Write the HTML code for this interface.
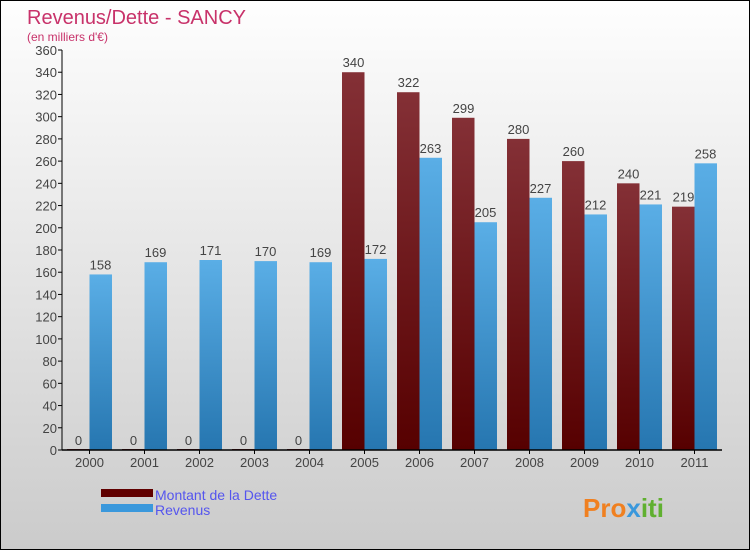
<!DOCTYPE html>
<html><head><meta charset="utf-8"><style>
body{margin:0;width:750px;height:550px;overflow:hidden;font-family:"Liberation Sans",sans-serif}
#root{position:relative;width:748px;height:548px;border:1px solid #000;background:linear-gradient(#fefefe,#cbcbcb)}
</style></head><body>
<div id="root">
<svg id="svg" width="748" height="548" style="position:absolute;left:0;top:0">
<defs>
<linearGradient id="gd" x1="0" y1="0" x2="0" y2="1"><stop offset="0" stop-color="#843036"/><stop offset="1" stop-color="#560000"/></linearGradient>
<linearGradient id="gr" x1="0" y1="0" x2="0" y2="1"><stop offset="0" stop-color="#5aaee6"/><stop offset="1" stop-color="#2676b0"/></linearGradient>
</defs>
<text x="26" y="23" font-size="20" fill="#c8326a">Revenus/Dette - SANCY</text>
<text x="26" y="40" font-size="12" fill="#c8326a">(en milliers d'€)</text>
<g id="plot"></g>
<rect x="100" y="488" width="52" height="8" fill="#600000"/>
<rect x="100" y="503" width="52" height="8" fill="#3a98dc"/>
<text x="154" y="499" font-size="14" fill="#5555ee">Montant de la Dette</text>
<text x="154" y="514" font-size="14" fill="#5555ee">Revenus</text>
<text x="582" y="516" font-size="26" font-weight="bold" fill="#f08020">Pro<tspan fill="#3a98dc">x</tspan><tspan fill="#60b030">iti</tspan></text>
</svg>
</div>
<script>
const years=["2000","2001","2002","2003","2004","2005","2006","2007","2008","2009","2010","2011"];
const dette=[0,0,0,0,0,340,322,299,280,260,240,219];
const revenus=[158,169,171,170,169,172,263,205,227,212,221,258];
const yTicks=[0,20,40,60,80,100,120,140,160,180,200,220,240,260,280,300,320,340,360];
const X0=61,SLOT=55,Y0=449,YMAX=360,H=400;
const ys=v=>Y0-v/YMAX*H;
const g=document.getElementById('plot');
const NS="http://www.w3.org/2000/svg";
function el(t,a){const e=document.createElementNS(NS,t);for(const k in a)e.setAttribute(k,a[k]);g.appendChild(e);return e;}
yTicks.forEach(v=>{
 const l=el('line',{x1:X0-4,x2:X0,y1:ys(v),y2:ys(v),stroke:'#000'});
 
 
 const t=el('text',{x:X0-5,y:ys(v)+5,'font-size':13,fill:'#444','text-anchor':'end'});
 t.textContent=v;
 
 
});
years.forEach((y,i)=>{
 const c=X0+SLOT*(i+0.5);
 const hd=Math.max(1,dette[i]/YMAX*H);
 const b1=el('rect',{x:c-22.5,y:Y0-hd,width:22.5,height:hd,fill:'url(#gd)'});
 
 
 const hr=revenus[i]/YMAX*H;
 const b2=el('rect',{x:c,y:Y0-hr,width:22.5,height:hr,fill:'url(#gr)'});
 
 
 const t1=el('text',{x:c-11,y:ys(dette[i])-5,'font-size':13,fill:'#444','text-anchor':'middle'});
 t1.textContent=dette[i];
 
 
 const t2=el('text',{x:c+11,y:ys(revenus[i])-5,'font-size':13,fill:'#444','text-anchor':'middle'});
 t2.textContent=revenus[i];
 
 
 const tk=el('line',{x1:c,x2:c,y1:Y0,y2:Y0+4,stroke:'#000'});
 
 
 const tl=el('text',{x:c,y:Y0+17,'font-size':13,fill:'#444','text-anchor':'middle'});
 tl.textContent=y;
 
 
});
const ya=el('line',{x1:X0,x2:X0,y1:ys(360),y2:Y0,stroke:'#000'});


const xa=el('line',{x1:X0,x2:X0+SLOT*12,y1:Y0,y2:Y0,stroke:'#000','stroke-width':1.5});


</script>
</body></html>
